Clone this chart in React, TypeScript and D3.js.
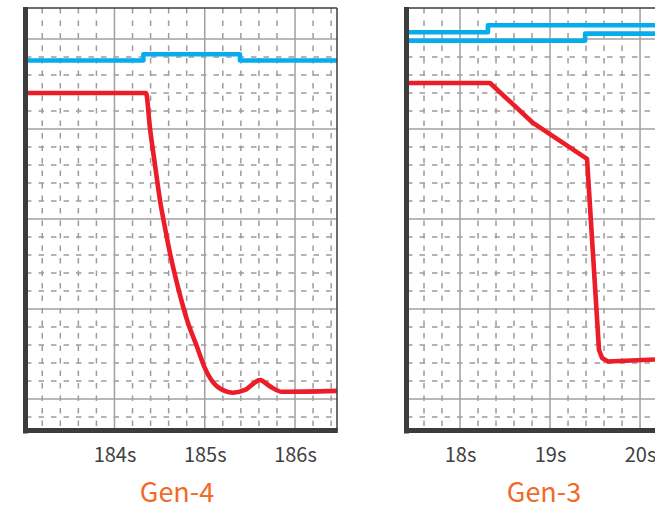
import React from 'react';
import * as d3 from 'd3';

// Gen-4 panel (seconds / relative level)
const gen4Domain = [183.02, 186.465];
const gen4Ticks = [184, 185, 186];
const gen4BlueT = [183.02, 184.32, 185.39, 186.465];
const gen4BlueV = [37.6, 38.3, 37.6, 37.6];
const gen4RedT = [183.02, 184.349, 184.393, 184.449, 184.504, 184.56, 184.615, 184.704, 184.803, 184.914, 185.003, 185.136, 185.313, 185.446, 185.612, 185.723, 185.856, 186.465];
const gen4RedV = [34.0, 34.0, 30.1, 26.0, 22.1, 19.0, 16.2, 12.4, 8.8, 5.8, 3.4, 1.4, 0.7, 1.0, 2.1, 1.4, 0.8, 0.9];

// Gen-3 panel
const gen3Domain = [17.411, 20.866];
const gen3Ticks = [18, 19, 20];
const gen3BlueAT = [17.411, 18.31, 20.866];
const gen3BlueAV = [40.74, 41.52, 41.52];
const gen3BlueBT = [17.411, 19.39, 20.866];
const gen3BlueBV = [39.8, 40.59, 40.59];
const gen3RedT = [17.411, 18.333, 18.811, 19.411, 19.544, 19.578, 19.644, 20.167, 20.866];
const gen3RedV = [35.11, 35.11, 30.67, 26.67, 5.44, 4.56, 4.17, 4.39, 4.44];

const yMajor = [0, 10, 20, 30, 40];
const yMinor = [-2, 2, 4, 6, 8, 12, 14, 16, 18, 22, 24, 26, 28, 32, 34, 36, 38];

const BLUE = '#05adec';
const RED = '#ec1c28';
const ORANGE = '#f26a2a';
const AXIS = '#3c3c3c';
const GRID = '#a0a0a0';
const DASH = '#9c9c9c';
const FONT = '"Noto Sans CJK SC", "Noto Sans", sans-serif';

const TOP = 8;
const BOTTOM = 431;

const y = d3.scaleLinear().domain([-3.556, 43.44]).range([BOTTOM, TOP]);

type Series = { t: number[]; v: number[]; color: string; curve: d3.CurveFactory };

function Panel({ left, width, domain, ticks, title, titleX, series }: {
  left: number; width: number; domain: number[]; ticks: number[];
  title: string; titleX: number; series: Series[];
}) {
  const x = d3.scaleLinear().domain(domain).range([left, left + width]);
  const right = left + width;
  const minorX = d3.range(Math.ceil(domain[0] * 5 - 1e-6), Math.floor(domain[1] * 5 + 1e-6) + 1)
    .map(k => k / 5)
    .filter(v => Math.abs(v - Math.round(v)) > 1e-6 && x(v) > left + 3);

  return (
    <g>
      {/* minor dashed grid */}
      {minorX.map(v => (
        <line key={'mx' + v} x1={x(v)} x2={x(v)} y1={TOP} y2={BOTTOM}
          stroke={DASH} strokeWidth={1.5} strokeDasharray="5.5,7" />
      ))}
      {yMinor.map(v => (
        <line key={'my' + v} x1={left} x2={right} y1={y(v)} y2={y(v)}
          stroke={DASH} strokeWidth={1.5} strokeDasharray="5.5,7" />
      ))}
      {/* major grid */}
      {ticks.map(v => (
        <line key={'Mx' + v} x1={x(v)} x2={x(v)} y1={TOP} y2={BOTTOM} stroke={GRID} strokeWidth={1.5} />
      ))}
      {yMajor.map(v => (
        <line key={'My' + v} x1={left} x2={right} y1={y(v)} y2={y(v)} stroke={GRID} strokeWidth={1.5} />
      ))}
      {/* series */}
      {series.map((s, i) => {
        const line = d3.line<number>()
          .x((_, j) => x(s.t[j]))
          .y(d => y(d))
          .curve(s.curve);
        return (
          <path key={i} d={line(s.v) || ''} fill="none" stroke={s.color}
            strokeWidth={4.6} strokeLinejoin="round" />
        );
      })}
      {/* frame */}
      <line x1={left - 2} x2={right} y1={TOP} y2={TOP} stroke={AXIS} strokeWidth={1.5} />
      <line x1={right} x2={right} y1={TOP} y2={BOTTOM} stroke={AXIS} strokeWidth={1.5} />
      <line x1={left - 0.5} x2={left - 0.5} y1={TOP - 1} y2={BOTTOM + 2.5} stroke={AXIS} strokeWidth={5} />
      <line x1={left - 3} x2={right + 0.75} y1={BOTTOM - 0.5} y2={BOTTOM - 0.5} stroke={AXIS} strokeWidth={5} />
      {/* tick labels */}
      {ticks.map(v => (
        <text key={'t' + v} x={x(v) + 0.5} y={462} textAnchor="middle" fontFamily={FONT}
          fontSize={20} fill="#404040">{v}s</text>
      ))}
      <text x={titleX} y={502} textAnchor="middle" fontFamily={FONT} fontSize={27} fill={ORANGE}>{title}</text>
    </g>
  );
}

export default function App() {
  return (
    <svg width={655} height={510} style={{ position: 'absolute', left: 0, top: 0, background: '#fff' }}>
      <rect width={655} height={510} fill="#fff" />
      <Panel left={26} width={311} domain={gen4Domain} ticks={gen4Ticks} title="Gen-4" titleX={177}
        series={[
          { t: gen4BlueT, v: gen4BlueV, color: BLUE, curve: d3.curveStepAfter },
          { t: gen4RedT, v: gen4RedV, color: RED, curve: d3.curveMonotoneX },
        ]} />
      <Panel left={407} width={311} domain={gen3Domain} ticks={gen3Ticks} title="Gen-3" titleX={544}
        series={[
          { t: gen3BlueAT, v: gen3BlueAV, color: BLUE, curve: d3.curveStepAfter },
          { t: gen3BlueBT, v: gen3BlueBV, color: BLUE, curve: d3.curveStepAfter },
          { t: gen3RedT, v: gen3RedV, color: RED, curve: d3.curveLinear },
        ]} />
    </svg>
  );
}
